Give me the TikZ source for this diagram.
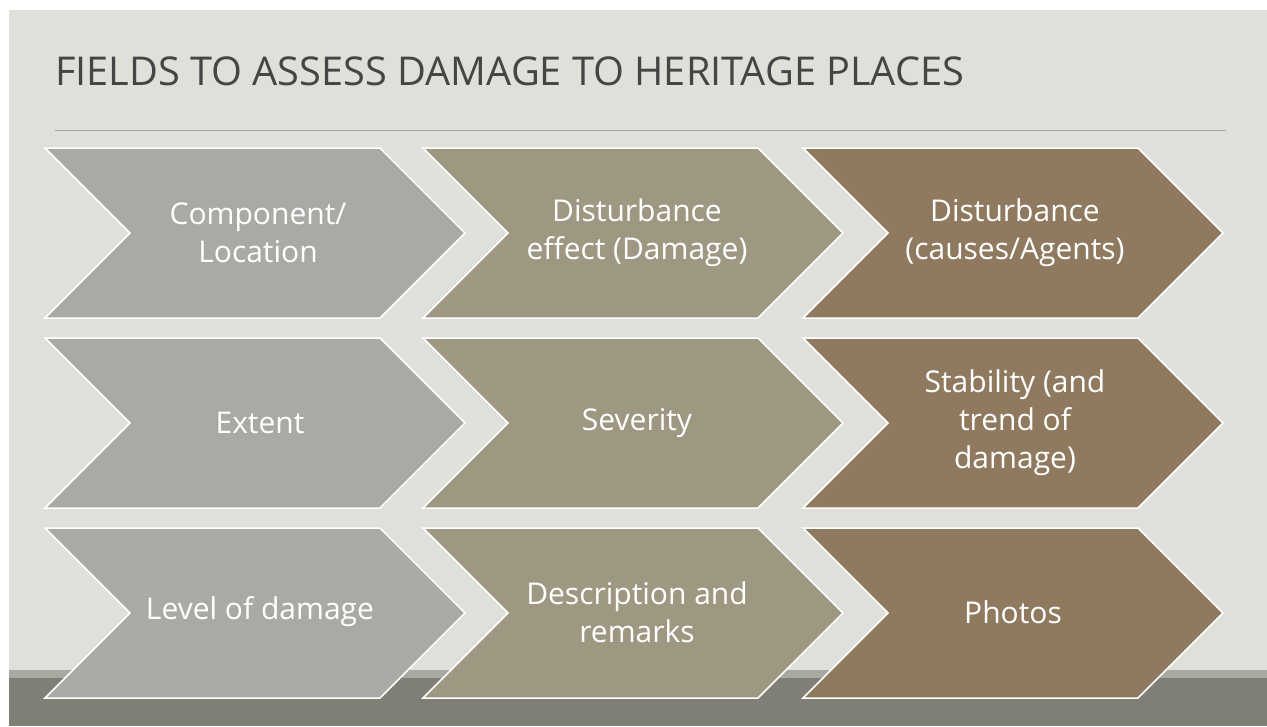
\documentclass[tikz,border=0pt]{standalone}
\usepackage{fontspec}
\setmainfont{Open Sans}
\definecolor{bgc}{HTML}{E0E0DA}
\definecolor{stripc}{HTML}{A8A9A3}
\definecolor{bandc}{HTML}{7F7F76}
\definecolor{cone}{HTML}{A9AAA5}
\definecolor{ctwo}{HTML}{9E9882}
\definecolor{cthree}{HTML}{8F7A5F}
\definecolor{titlec}{HTML}{454545}
\definecolor{rulec}{HTML}{A6A6A6}
\tikzset{
  chev/.style={draw=white, line width=1.5pt, line join=miter},
  lbl/.style={text=white, align=center, font=\fontsize{30}{38}\selectfont},
  pics/chevron/.style={code={
    \fill[#1] (0,0) -- (335,0) -- (420,85) -- (335,170) -- (0,170) -- (85,85) -- cycle;
    \draw[chev] (0,0) -- (335,0) -- (420,85) -- (335,170) -- (0,170) -- (85,85) -- cycle;
  }}
}
\begin{document}
\begin{tikzpicture}[x=1pt,y=-1pt]
\useasboundingbox (0,0) rectangle (1267,726);
\fill[white] (0,0) rectangle (1267,726);
\fill[bgc] (9,10) rectangle (1267,726);
\fill[stripc] (9,670) rectangle (1267,678);
\fill[bandc] (9,678) rectangle (1267,726);
\node[anchor=base west, inner sep=0, text=titlec, font=\fontsize{39.7}{48}\selectfont] (title) at (55,85) {FIELDS TO ASSESS DAMAGE TO HERITAGE PLACES};
\draw[rulec, line width=0.8pt] (55,130.5) -- (1226,130.5);
% row 1
\pic at (45,148) {chevron=cone};
\pic at (423,148) {chevron=ctwo};
\pic at (803,148) {chevron=cthree};
% row 2
\pic at (45,338) {chevron=cone};
\pic at (423,338) {chevron=ctwo};
\pic at (803,338) {chevron=cthree};
% row 3
\pic at (45,528) {chevron=cone};
\pic at (423,528) {chevron=ctwo};
\pic at (803,528) {chevron=cthree};
% labels
\node[lbl] (a1) at (258,233) {Component/\\Location};
\node[lbl] (b1) at (637,233) {Disturbance\\effect (Damage)};
\node[lbl] (c1) at (1015,233) {Disturbance\\(causes/Agents)};
\node[lbl] (a2) at (260,423) {Extent};
\node[lbl] (b2) at (637,423) {Severity};
\node[lbl] (c2) at (1015,423) {Stability (and\\trend of\\damage)};
\node[lbl] (a3) at (260,612) {Level of damage};
\node[lbl] (b3) at (637,612) {Description and\\remarks};
\node[lbl] (c3) at (1013,612) {Photos};
\end{tikzpicture}
\end{document}
